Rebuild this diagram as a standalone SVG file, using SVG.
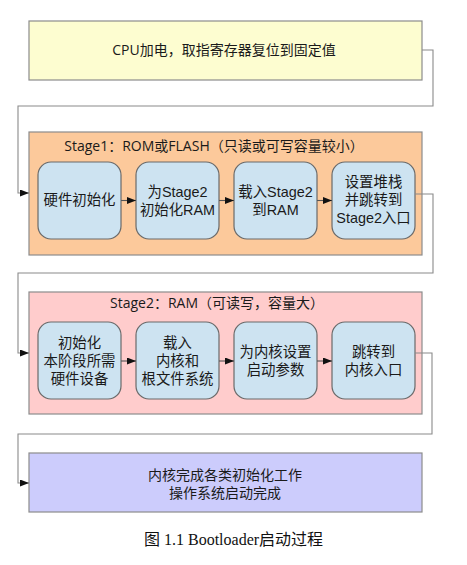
<svg xmlns="http://www.w3.org/2000/svg" width="467" height="565" viewBox="0 0 467 565">
<defs>
<marker id="arr" markerUnits="userSpaceOnUse" markerWidth="9" markerHeight="7" refX="9" refY="3.5" orient="auto">
<path d="M0,0 L9,3.5 L0,7 z" fill="#111"/>
</marker>
<style>
.big{stroke:#8c8c8c;stroke-width:1.2}
.inner{fill:#cde3f1;stroke:#6a6a6a;stroke-width:1.2}
.t{font-family:"Open Sans","Noto Sans CJK SC",sans-serif;font-size:14px;fill:#1a1a1a;text-anchor:middle}
.ti{font-family:"Liberation Sans","Noto Sans CJK SC",sans-serif;font-size:14.4px;fill:#1a1a1a;text-anchor:middle}
.conn{fill:none;stroke:#8a8a8a;stroke-width:1.1}
.link{fill:none;stroke:#555;stroke-width:1.1}
</style>
</defs>
<rect width="467" height="565" fill="#ffffff"/>

<g id="power">
<rect class="big" x="29" y="21" width="393" height="59" fill="#fdfdd0"/>
<text class="t" x="224" y="55">CPU加电，取指寄存器复位到固定值</text>
</g>

<g id="stage1">
<rect class="big" x="29" y="132" width="393" height="123" fill="#fcc99b"/>
<text class="t" x="214" y="151">Stage1：ROM或FLASH（只读或可写容量较小）</text>
</g>
<g id="s1-hw">
<rect class="inner" x="38" y="162" width="83" height="77" rx="13"/>
<text class="ti" x="79.5" y="205">硬件初始化</text>
</g>
<g id="s1-ram">
<rect class="inner" x="136" y="162" width="83" height="77" rx="13"/>
<text class="ti" x="177.5" y="197">为Stage2</text>
<text class="ti" x="177.5" y="215">初始化RAM</text>
</g>
<g id="s1-load">
<rect class="inner" x="234" y="162" width="83" height="77" rx="13"/>
<text class="ti" x="275.5" y="197">载入Stage2</text>
<text class="ti" x="275.5" y="215">到RAM</text>
</g>
<g id="s1-jump">
<rect class="inner" x="332" y="162" width="83" height="77" rx="13"/>
<text class="ti" x="373.5" y="187">设置堆栈</text>
<text class="ti" x="373.5" y="205">并跳转到</text>
<text class="ti" x="373.5" y="223">Stage2入口</text>
</g>

<g id="stage2">
<rect class="big" x="29" y="292" width="393" height="122" fill="#ffcccc"/>
<text class="t" x="217" y="308">Stage2：RAM（可读写，容量大）</text>
</g>
<g id="s2-hw">
<rect class="inner" x="38" y="322" width="83" height="77" rx="13"/>
<text class="ti" x="79.5" y="348">初始化</text>
<text class="ti" x="79.5" y="366">本阶段所需</text>
<text class="ti" x="79.5" y="384">硬件设备</text>
</g>
<g id="s2-load">
<rect class="inner" x="136" y="322" width="83" height="77" rx="13"/>
<text class="ti" x="177.5" y="348">载入</text>
<text class="ti" x="177.5" y="366">内核和</text>
<text class="ti" x="177.5" y="384">根文件系统</text>
</g>
<g id="s2-param">
<rect class="inner" x="234" y="322" width="83" height="77" rx="13"/>
<text class="ti" x="275.5" y="357">为内核设置</text>
<text class="ti" x="275.5" y="375">启动参数</text>
</g>
<g id="s2-jump">
<rect class="inner" x="332" y="322" width="83" height="77" rx="13"/>
<text class="ti" x="373.5" y="357">跳转到</text>
<text class="ti" x="373.5" y="375">内核入口</text>
</g>

<g id="kernel">
<rect class="big" x="29" y="453" width="393" height="59" fill="#ccccfc"/>
<text class="t" x="225" y="480">内核完成各类初始化工作</text>
<text class="t" x="225" y="497.5">操作系统启动完成</text>
</g>

<g id="connectors">
<path class="conn" d="M422,50 H433 V106 H18 V193 H29" marker-end="url(#arr)"/>
<path class="conn" d="M415,194 H433 V273 H18 V353 H29" marker-end="url(#arr)"/>
<path class="conn" d="M415,353 H432 V434 H18 V483 H29" marker-end="url(#arr)"/>
<path class="link" d="M121,200.5 H136" marker-end="url(#arr)"/>
<path class="link" d="M219,200.5 H234" marker-end="url(#arr)"/>
<path class="link" d="M317,200.5 H332" marker-end="url(#arr)"/>
<path class="link" d="M121,361 H136" marker-end="url(#arr)"/>
<path class="link" d="M219,361 H234" marker-end="url(#arr)"/>
<path class="link" d="M317,361 H332" marker-end="url(#arr)"/>
</g>

<text x="144" y="545" font-family="Liberation Serif, 'Noto Sans CJK SC', serif" font-size="16" fill="#111">图 1.1 Bootloader启动过程</text>
</svg>
